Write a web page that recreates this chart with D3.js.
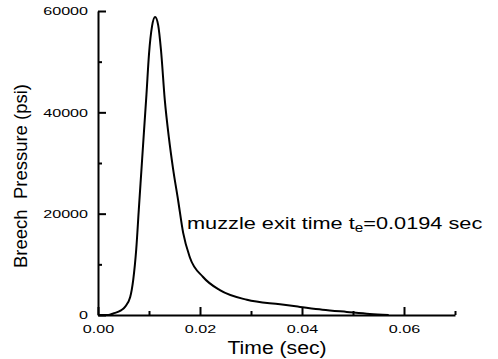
<!DOCTYPE html>
<html>
<head>
<meta charset="utf-8">
<title>Breech Pressure</title>
<script src="https://d3js.org/d3.v7.min.js"></script>
<style>
  body { margin: 0; background: #fff; }
  svg text { font-family: "Liberation Sans", Arial, Helvetica, sans-serif; fill: #000; }
</style>
</head>
<body>
<svg id="chart" width="498" height="359"></svg>
<script>
// values
var time = [0, 0.002, 0.003, 0.0045, 0.0053, 0.0063, 0.0069, 0.0075, 0.0080, 0.0085, 0.0090,
            0.0095, 0.0100, 0.0106, 0.0112, 0.0118, 0.01235, 0.0131, 0.0139, 0.0147, 0.0157,
            0.0167, 0.0180, 0.0206, 0.0239, 0.0292, 0.0357, 0.0396, 0.0440, 0.0488, 0.0533, 0.0570];
var pressure = [0, 0, 300, 900, 1600, 3500, 6900, 13000, 20800, 28400, 36000,
                43500, 51500, 57000, 58800, 57200, 52300, 42400, 35000, 29000, 22700,
                16200, 11400, 7500, 4900, 3000, 2100, 1600, 1050, 600, 200, 0];
var yMajor = [0, 20000, 40000, 60000];
var yMinor = [10000, 30000, 50000];
var xMajor = [0, 0.02, 0.04, 0.06];
var xMinor = [0.01, 0.03, 0.05, 0.07];

var svg = d3.select("#chart");

var x = d3.scaleLinear().domain([0, 0.07]).range([98, 455]);
var y = d3.scaleLinear().domain([0, 60000]).range([315, 11]);

function stretch(sel, k) {
  sel.each(function() {
    var w = this.getComputedTextLength();
    d3.select(this).attr("textLength", w * k).attr("lengthAdjust", "spacingAndGlyphs");
  });
}

// y axis
var gy = svg.append("g").attr("transform", "translate(98,0)")
    .call(d3.axisLeft(y).tickValues(yMajor).tickFormat(d3.format("d"))
      .tickSizeInner(-8).tickSizeOuter(0).tickPadding(10));
gy.select(".domain").attr("stroke-width", 2);
gy.selectAll(".tick line").attr("stroke-width", 2);
gy.selectAll("text").attr("font-size", 11.5).attr("font-family", null);
stretch(gy.selectAll("text"), 1.4);

svg.append("g").attr("transform", "translate(98,0)")
    .call(d3.axisLeft(y).tickValues(yMinor).tickFormat("").tickSizeInner(-4).tickSizeOuter(0))
    .call(function(g) { g.select(".domain").remove(); })
    .selectAll("line").attr("stroke-width", 2);

// x axis
var gx = svg.append("g").attr("transform", "translate(0,315)")
    .call(d3.axisBottom(x).tickValues(xMajor).tickFormat(d3.format(".2f"))
      .tickSizeInner(-8).tickSizeOuter(0).tickPadding(10));
gx.select(".domain").attr("stroke-width", 2);
gx.selectAll(".tick line").attr("stroke-width", 2);
gx.selectAll("text").attr("font-size", 11.5).attr("font-family", null);
stretch(gx.selectAll("text"), 1.4);

svg.append("g").attr("transform", "translate(0,315)")
    .call(d3.axisBottom(x).tickValues(xMinor).tickFormat("").tickSizeInner(-4).tickSizeOuter(0))
    .call(function(g) { g.select(".domain").remove(); })
    .selectAll("line").attr("stroke-width", 2);

// curve
var pts = time.map(function(t, i) { return [t, pressure[i]]; });
var line = d3.line()
    .x(function(d) { return x(d[0]); })
    .y(function(d) { return y(d[1]); })
    .curve(d3.curveMonotoneX);

svg.append("path")
    .datum(pts)
    .attr("fill", "none")
    .attr("stroke", "#000")
    .attr("stroke-width", 2)
    .attr("stroke-linejoin", "round")
    .attr("d", line);

// titles
var xt = svg.append("text")
    .attr("x", 277).attr("y", 354)
    .attr("text-anchor", "middle")
    .attr("font-size", 18)
    .text("Time (sec)");
xt.attr("textLength", 99).attr("lengthAdjust", "spacingAndGlyphs");

var yt = svg.append("text")
    .attr("transform", "translate(27,176) rotate(-90)")
    .attr("text-anchor", "middle")
    .attr("font-size", 18)
    .style("white-space", "pre")
    .text("Breech  Pressure (psi)");
yt.attr("textLength", 184).attr("lengthAdjust", "spacingAndGlyphs");

// annotation
var ann = svg.append("g");
var at = ann.append("text").attr("x", 0).attr("y", 0).attr("font-size", 17);
at.append("tspan").text("muzzle exit time t");
at.append("tspan").attr("font-size", 12).attr("dy", 3).text("e");
at.append("tspan").attr("dy", -3).text("=0.0194 sec");
var bw = at.node().getBBox().width;
ann.attr("transform", "translate(187,229) scale(" + (296 / bw) + ",1)");
</script>
</body>
</html>
